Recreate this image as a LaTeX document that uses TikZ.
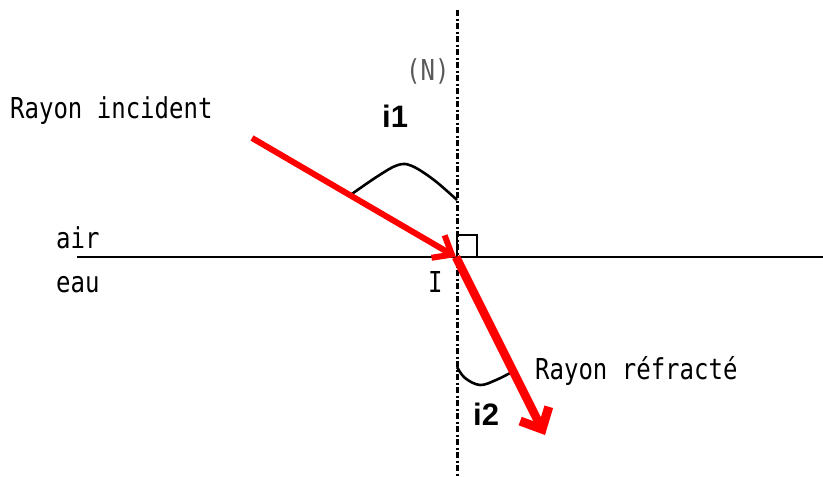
\documentclass[tikz,border=0pt]{standalone}
\usepackage{fontspec}
\setmainfont{DejaVu Sans Mono}
\newfontfamily\boldsans{Liberation Sans}
\usetikzlibrary{arrows.meta}
\newcommand{\tallt}[1]{\scalebox{1}[1.2]{#1}}
\tikzset{
  lbl/.style={font=\fontsize{24}{26}\selectfont, inner sep=0pt, anchor=base west},
  anglbl/.style={font=\boldsans\bfseries\fontsize{31}{33}\selectfont, inner sep=0pt, anchor=base west},
  ray/.style={draw=red, line cap=butt},
  anglearc/.style={draw=black, line width=2.6pt, line join=round},
}
\begin{document}
\begin{tikzpicture}[x=1pt,y=-1pt]
\useasboundingbox (0,0) rectangle (823,477);
% coordinates
\coordinate (I) at (456,257);
\coordinate (Ntop) at (457,10);
\coordinate (Nbot) at (457,477);
\coordinate (Hl) at (77,257);
\coordinate (Hr) at (823,257);
\coordinate (A) at (252,138);
\coordinate (B) at (545,435);
% interface and normal
\draw[line width=1.5pt] (Hl) -- (Hr);
\draw[line width=3pt, dash pattern=on 6pt off 2.5pt on 2pt off 2.5pt] (Ntop) -- (Nbot);
% right-angle square
\draw[line width=1.5pt] (457,235) rectangle (477,257);
% angle arcs
\draw[anglearc] plot[smooth, tension=0.6] coordinates {(349,196) (378,176) (398,165) (412,166) (434,180) (457,200)};
\draw[anglearc] plot[smooth, tension=0.6] coordinates {(457,367) (465,378) (480,385) (496,380) (512,372)};
% rays
\draw[ray, line width=6pt, -{Straight Barb[length=16pt, width=26pt, line width=6pt]}] (A) -- (I);
\draw[ray, line width=8.5pt, -{Straight Barb[length=17pt, width=32pt, line width=9pt]}] (I) -- (B);
% labels
\node[lbl] (tinc) at (10,118) {\tallt{Rayon incident}};
\node[lbl] (tref) at (535,379) {\tallt{Rayon réfracté}};
\node[lbl] (tair) at (56,248) {\tallt{air}};
\node[lbl] (teau) at (56,292) {\tallt{eau}};
\node[lbl] (tI) at (428,292) {\tallt{I}};
\node[lbl, text=black!65] (tN) at (406,80) {\tallt{(N)}};
\node[anglbl] (ti1) at (382,127) {i1};
\node[anglbl] (ti2) at (473,425) {i2};
\end{tikzpicture}
\end{document}
